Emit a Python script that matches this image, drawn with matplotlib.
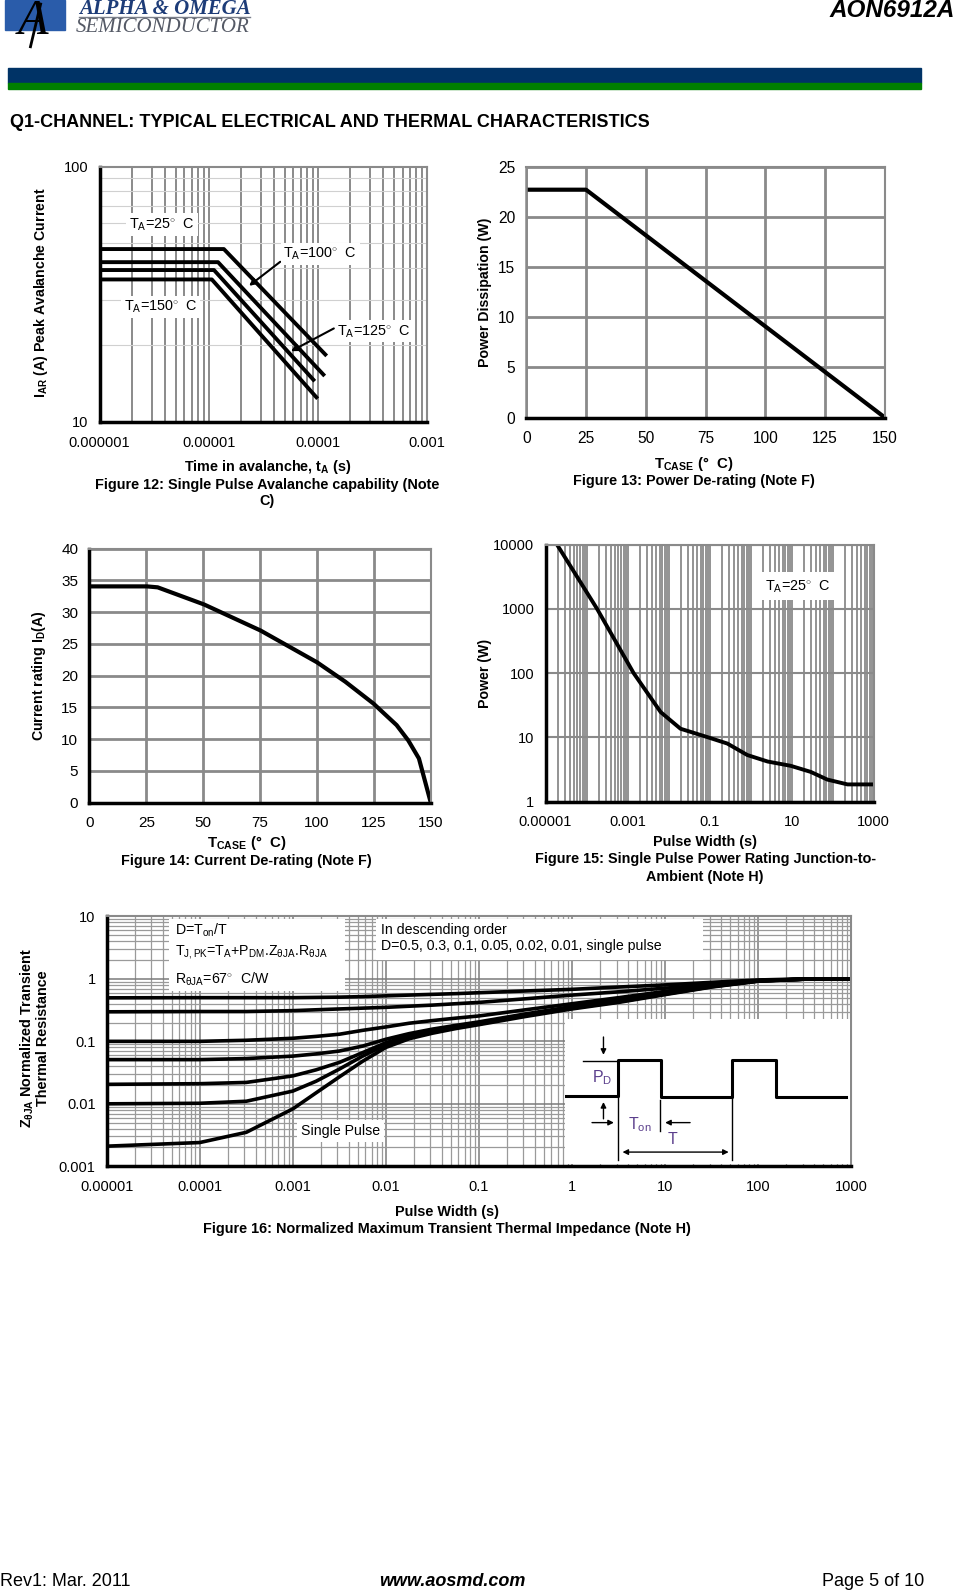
import numpy as np
import matplotlib.pyplot as plt
import matplotlib.ticker as mticker
from matplotlib.patches import Rectangle

plt.rcParams['font.family'] = ['Liberation Sans', 'DejaVu Sans']
plt.rcParams['mathtext.fontset'] = 'custom'
plt.rcParams['mathtext.rm'] = 'Liberation Sans'
plt.rcParams['mathtext.it'] = 'Liberation Sans:italic'
plt.rcParams['mathtext.bf'] = 'Liberation Sans:bold'

W, H = 956, 1593
# layout units used below (page measured at 941 x 1568)
PW, PH = 941.0, 1568.0

# ---- data ----
# Fig 12: avalanche current vs time
av_t25 = [1e-6, 1.38e-5, 1.21e-4]
av_i25 = [47.5, 47.5, 18.1]
av_t100 = [1e-6, 1.22e-5, 1.16e-4]
av_i100 = [42.2, 42.2, 15.1]
av_t125 = [1e-6, 1.12e-5, 9.4e-5]
av_i125 = [39.3, 39.3, 14.4]
av_t150 = [1e-6, 1.07e-5, 1.0e-4]
av_i150 = [36.1, 36.1, 12.3]

# Fig 13: power derating
pd_tc = [0, 25, 150]
pd_w = [22.7, 22.7, 0]

# Fig 14: current derating
id_tc = [0, 25.3, 30, 50.4, 75.2, 100, 112.4, 124.8, 135, 140.1, 144.8, 150]
id_a = [34.05, 34.05, 33.9, 31.2, 27.1, 22.1, 19.05, 15.6, 12.2, 9.8, 6.95, 0]

# Fig 15: single pulse power
sp_t = [1.9e-5, 1.8e-4, 1.4e-3, 6.4e-3, 0.0195, 0.087, 0.27, 0.83, 2.6, 9.5, 29, 74, 230, 1000]
sp_p = [10000, 1000, 100, 24.7, 13.6, 10.1, 8.0, 5.3, 4.2, 3.6, 2.9, 2.2, 1.85, 1.85]

# Fig 16: normalized transient thermal impedance (log10 of pulse width)
zt_logt = [-5, -4, -3.5, -3, -2.75, -2.5, -2.25, -2, -1.75, -1.5, -1.25, -1,
           -0.5, 0, 0.5, 1, 1.5, 2, 2.5, 3]
z_d05 = [0.497, 0.5, 0.5, 0.5, 0.505, 0.51, 0.52, 0.535, 0.55, 0.565, 0.58, 0.6,
         0.64, 0.68, 0.74, 0.8, 0.88, 0.96, 1.0, 1.0]
z_d03 = [0.297, 0.3, 0.3, 0.31, 0.32, 0.33, 0.34, 0.35, 0.365, 0.38, 0.4, 0.42,
         0.48, 0.55, 0.62, 0.71, 0.81, 0.93, 0.99, 1.0]
z_d01 = [0.1, 0.1, 0.104, 0.112, 0.12, 0.13, 0.15, 0.17, 0.195, 0.215, 0.235, 0.255,
         0.32, 0.4, 0.5, 0.63, 0.79, 0.94, 0.99, 1.0]
z_d005 = [0.051, 0.051, 0.053, 0.058, 0.063, 0.07, 0.084, 0.108, 0.133, 0.157, 0.18, 0.205,
          0.275, 0.36, 0.46, 0.6, 0.77, 0.93, 0.99, 1.0]
z_d002 = [0.0205, 0.021, 0.022, 0.028, 0.035, 0.046, 0.066, 0.095, 0.123, 0.148, 0.172, 0.196,
          0.265, 0.35, 0.44, 0.58, 0.76, 0.93, 0.99, 1.0]
z_d001 = [0.01, 0.0102, 0.011, 0.016, 0.023, 0.036, 0.058, 0.088, 0.117, 0.142, 0.167, 0.19,
          0.26, 0.34, 0.43, 0.57, 0.75, 0.92, 0.99, 1.0]
z_single = [0.0021, 0.0024, 0.0035, 0.0083, 0.015, 0.027, 0.048, 0.08, 0.11, 0.135, 0.16, 0.185,
            0.25, 0.33, 0.42, 0.56, 0.74, 0.92, 0.99, 1.0]

# pulse schematic (inset units)
pulse_x = [0, 52, 52, 95, 95, 165, 165, 208, 208, 277]
pulse_y = [76, 76, 40, 40, 77, 77, 40, 40, 77, 77]

fig = plt.figure(figsize=(W / 100, H / 100), dpi=100)


def add_ax(l, t, r, b):
    return fig.add_axes([l / PW, 1 - b / PH, (r - l) / PW, (b - t) / PH])


def ftext(x, y, s, **kw):
    return fig.text(x / PW, 1 - y / PH, s, **kw)


def fpt(x, y):
    return (x / PW, 1 - y / PH)


def style(ax, left='k', bottom='k', size=10.5):
    for s in ['top', 'right']:
        ax.spines[s].set_color('#8a8a8a')
        ax.spines[s].set_linewidth(1.5)
    ax.spines['left'].set_color(left)
    ax.spines['left'].set_linewidth(2.5 if left == 'k' else 1.8)
    ax.spines['bottom'].set_color(bottom)
    ax.spines['bottom'].set_linewidth(2.5)
    ax.tick_params(which='both', length=0, labelsize=size)
    ax.tick_params(axis='x', pad=10)
    ax.tick_params(axis='y', pad=8)
    ax.set_axisbelow(True)


LAB = 10.4

# ---- page header / footer ----
page = fig.add_axes([0, 0, 1, 1])
page.set_xlim(0, PW)
page.set_ylim(PH, 0)
page.axis('off')
page.add_patch(Rectangle((5, 0), 59, 30, color='#2a5caa'))
page.text(32, 21, 'A', fontsize=36, style='italic', family='Liberation Serif',
          ha='center', va='center', color='k')
page.plot([40, 30], [4, 46], color='k', lw=2)
page.text(78, 8.5, 'ALPHA & OMEGA', fontsize=15, weight='bold', style='italic',
          family='Liberation Serif', color='#1d3c78', va='center')
page.plot([78, 246], [17, 17], color='#7a7f8a', lw=1)
page.text(75, 27, 'SEMICONDUCTOR', fontsize=15, style='italic',
          family='Liberation Serif', color='#555a66', va='center')
page.text(940, 10, 'AON6912A', fontsize=17.5, weight='bold', style='italic',
          ha='right', va='center')
page.add_patch(Rectangle((8, 67), 899, 15, color='#003366'))
page.add_patch(Rectangle((8, 82), 899, 6, color='#008000'))
page.text(10, 121, 'Q1-CHANNEL: TYPICAL ELECTRICAL AND THERMAL CHARACTERISTICS',
          fontsize=13, weight='bold', va='center')
page.text(0, 1557, 'Rev1: Mar. 2011', fontsize=13, va='center')
page.text(445, 1557, 'www.aosmd.com', fontsize=13, weight='bold', style='italic',
          va='center', ha='center')
page.text(910, 1557, 'Page 5 of 10', fontsize=13, va='center', ha='right')

# ---- Figure 12 ----
ax = add_ax(98, 164, 420, 415)
ax.set_xscale('log')
ax.set_yscale('log')
ax.set_xlim(1e-6, 1e-3)
ax.set_ylim(10, 100)
ax.set_xticks([1e-6, 1e-5, 1e-4, 1e-3])
ax.set_xticklabels(['0.000001', '0.00001', '0.0001', '0.001'])
ax.set_yticks([10, 100])
ax.set_yticklabels(['10', '100'])
ax.xaxis.set_minor_locator(mticker.LogLocator(base=10, subs=np.arange(2, 10)))
ax.yaxis.set_minor_locator(mticker.LogLocator(base=10, subs=np.arange(2, 10)))
ax.xaxis.set_minor_formatter(mticker.NullFormatter())
ax.yaxis.set_minor_formatter(mticker.NullFormatter())
ax.grid(True, axis='x', which='both', color='#8a8a8a', lw=1.4)
ax.grid(True, axis='y', which='minor', color='#d0d0d0', lw=0.8)
style(ax)
for t, i in [(av_t25, av_i25), (av_t100, av_i100), (av_t125, av_i125), (av_t150, av_i150)]:
    ax.plot(t, i, color='k', lw=2.8, solid_capstyle='butt')
box = dict(facecolor='white', edgecolor='none', pad=2)
ftext(127, 221, 'T$_{\\mathrm{A}}$=25$^{\\circ}$  C', fontsize=LAB, va='center', bbox=box)
ftext(279, 250, 'T$_{\\mathrm{A}}$=100$^{\\circ}$  C', fontsize=LAB, va='center', bbox=box)
ftext(122, 302, 'T$_{\\mathrm{A}}$=150$^{\\circ}$  C', fontsize=LAB, va='center', bbox=box)
ftext(332, 326, 'T$_{\\mathrm{A}}$=125$^{\\circ}$  C', fontsize=LAB, va='center', bbox=box)
ax.annotate('', xy=fpt(243, 283), xytext=fpt(278, 256),
            xycoords='figure fraction', arrowprops=dict(arrowstyle='-|>', color='k', lw=1.5))
ax.annotate('', xy=fpt(284, 347), xytext=fpt(331, 322),
            xycoords='figure fraction', arrowprops=dict(arrowstyle='-|>', color='k', lw=1.5))
ftext(40, 288, r'$\mathbf{I_{AR}}$ (A) Peak Avalanche Current', fontsize=10.2, weight='bold',
      rotation=90, ha='center', va='center')
ftext(263, 460, r'Time in avalanche, $\mathbf{t_A}$ (s)', fontsize=LAB, weight='bold',
      ha='center', va='center')
ftext(263, 477, 'Figure 12: Single Pulse Avalanche capability (Note', fontsize=LAB,
      weight='bold', ha='center', va='center')
ftext(263, 493, 'C)', fontsize=LAB, weight='bold', ha='center', va='center')

# ---- Figure 13 ----
ax = add_ax(518, 164, 871, 411)
ax.set_xlim(0, 150)
ax.set_ylim(0, 25)
ax.set_xticks(np.arange(0, 151, 25))
ax.set_yticks(np.arange(0, 26, 5))
ax.grid(True, color='#8a8a8a', lw=2)
style(ax, left='#8a8a8a', size=11.2)
ax.plot(pd_tc, pd_w, color='k', lw=3)
ftext(477, 288, 'Power Dissipation (W)', fontsize=10.2, weight='bold', rotation=90,
      ha='center', va='center')
ftext(683, 457, r'$\mathbf{T_{CASE}}$ (°  C)', fontsize=10.8, weight='bold', ha='center', va='center')
ftext(683, 473, 'Figure 13: Power De-rating (Note F)', fontsize=LAB, weight='bold',
      ha='center', va='center')

# ---- Figure 14 ----
ax = add_ax(88, 540, 424, 790)
ax.set_xlim(0, 150)
ax.set_ylim(0, 40)
ax.set_xticks(np.arange(0, 151, 25))
ax.set_yticks(np.arange(0, 41, 5))
ax.grid(True, color='#8a8a8a', lw=2)
style(ax, size=11)
ax.plot(id_tc, id_a, color='k', lw=3)
ftext(38, 665, r'Current rating $\mathbf{I_D}$(A)', fontsize=10.2, weight='bold', rotation=90,
      ha='center', va='center')
ftext(243, 830, r'$\mathbf{T_{CASE}}$ (°  C)', fontsize=10.8, weight='bold', ha='center', va='center')
ftext(243, 847, 'Figure 14: Current De-rating (Note F)', fontsize=LAB, weight='bold',
      ha='center', va='center')

# ---- Figure 15 ----
ax = add_ax(537, 536, 860, 789)
ax.set_xscale('log')
ax.set_yscale('log')
ax.set_xlim(1e-5, 1e3)
ax.set_ylim(1, 1e4)
ax.set_xticks([10.0 ** k for k in range(-5, 4)])
ax.set_xticklabels(['0.00001', '', '0.001', '', '0.1', '', '10', '', '1000'])
ax.set_yticks([1, 10, 100, 1000, 10000])
ax.set_yticklabels(['1', '10', '100', '1000', '10000'])
ax.xaxis.set_minor_locator(mticker.LogLocator(base=10, subs=np.arange(2, 10), numticks=50))
ax.xaxis.set_minor_formatter(mticker.NullFormatter())
ax.yaxis.set_minor_locator(mticker.NullLocator())
ax.grid(True, axis='x', which='both', color='#8a8a8a', lw=1.3)
ax.grid(True, axis='y', which='major', color='#8a8a8a', lw=1.5)
style(ax)
ax.plot(sp_t, sp_p, color='k', lw=2.8)
ftext(753, 577, 'T$_{\\mathrm{A}}$=25$^{\\circ}$  C', fontsize=LAB, va='center',
      bbox=dict(facecolor='white', edgecolor='none', pad=4))
ftext(477, 663, 'Power (W)', fontsize=10.2, weight='bold', rotation=90, ha='center', va='center')
ftext(694, 829, 'Pulse Width (s)', fontsize=LAB, weight='bold', ha='center', va='center')
ftext(694, 846, 'Figure 15: Single Pulse Power Rating Junction-to-', fontsize=LAB,
      weight='bold', ha='center', va='center')
ftext(694, 863, 'Ambient (Note H)', fontsize=LAB, weight='bold', ha='center', va='center')

# ---- Figure 16 ----
ax = add_ax(105, 902, 838, 1148)
ax.set_xscale('log')
ax.set_yscale('log')
ax.set_xlim(1e-5, 1e3)
ax.set_ylim(1e-3, 10)
ax.set_xticks([10.0 ** k for k in range(-5, 4)])
ax.set_xticklabels(['0.00001', '0.0001', '0.001', '0.01', '0.1', '1', '10', '100', '1000'])
ax.set_yticks([1e-3, 1e-2, 0.1, 1, 10])
ax.set_yticklabels(['0.001', '0.01', '0.1', '1', '10'])
for a in (ax.xaxis, ax.yaxis):
    a.set_minor_locator(mticker.LogLocator(base=10, subs=np.arange(2, 10), numticks=50))
    a.set_minor_formatter(mticker.NullFormatter())
ax.grid(True, which='major', color='#7a7a7a', lw=1.1)
ax.grid(True, which='minor', color='#9a9a9a', lw=0.9)
style(ax)
zt = 10.0 ** np.array(zt_logt)
for z in [z_d05, z_d03, z_d01, z_d005, z_d002, z_d001, z_single]:
    ax.plot(zt, z, color='k', lw=2.6)

fig.patches.append(Rectangle(fpt(166, 975), 174 / PW, 70 / PH, transform=fig.transFigure,
                             facecolor='white', edgecolor='none', zorder=5))
fig.patches.append(Rectangle(fpt(370, 945), 322 / PW, 40 / PH, transform=fig.transFigure,
                             facecolor='white', edgecolor='none', zorder=5))
TB = 10.2
ftext(172, 916, r'D=T$_{\mathrm{on}}$/T', fontsize=TB, va='center', zorder=6)
ftext(172, 937, r'T$_{\mathrm{J,PK}}$=T$_{\mathrm{A}}$+P$_{\mathrm{DM}}$.Z$_{\mathrm{θJA}}$.R$_{\mathrm{θJA}}$',
      fontsize=TB, va='center', zorder=6)
ftext(172, 964, r'R$_{\mathrm{θJA}}$=67$^{\circ}$  C/W', fontsize=TB, va='center', zorder=6)
ftext(375, 915, 'In descending order', fontsize=TB, va='center', zorder=6)
ftext(375, 931, 'D=0.5, 0.3, 0.1, 0.05, 0.02, 0.01, single pulse', fontsize=TB,
      va='center', zorder=6)
ftext(296, 1113, 'Single Pulse', fontsize=TB, va='center',
      bbox=dict(facecolor='white', edgecolor='none', pad=3))
ftext(27, 1022, r'$\mathbf{Z_{θJA}}$ Normalized Transient', fontsize=LAB, weight='bold',
      rotation=90, ha='center', va='center')
ftext(42, 1022, 'Thermal Resistance', fontsize=LAB, weight='bold', rotation=90,
      ha='center', va='center')
ftext(440, 1193, 'Pulse Width (s)', fontsize=LAB, weight='bold', ha='center', va='center')
ftext(440, 1210, 'Figure 16: Normalized Maximum Transient Thermal Impedance (Note H)',
      fontsize=LAB, weight='bold', ha='center', va='center')

# inset pulse diagram
ins = add_ax(556, 1003, 837, 1146)
ins.set_xlim(0, 281)
ins.set_ylim(143, 0)
ins.set_facecolor('white')
ins.set_xticks([])
ins.set_yticks([])
for s in ins.spines.values():
    s.set_visible(False)
ins.plot(pulse_x, pulse_y, color='k', lw=2.2)
ins.plot([52, 52], [76, 139], color='k', lw=1)
ins.plot([94, 94], [80, 110], color='k', lw=1)
ins.plot([165, 165], [77, 139], color='k', lw=1)
ins.plot([18, 52], [41, 41], color='k', lw=1)
arw = dict(arrowstyle='-|>', color='k', lw=1, mutation_scale=8)
ins.annotate('', xy=(38, 38), xytext=(38, 15), arrowprops=arw)
ins.annotate('', xy=(38, 79), xytext=(38, 101), arrowprops=arw)
ins.annotate('', xy=(51, 102), xytext=(24, 102), arrowprops=arw)
ins.annotate('', xy=(96, 102), xytext=(126, 102), arrowprops=arw)
ins.annotate('', xy=(54, 131), xytext=(164, 131),
             arrowprops=dict(arrowstyle='<|-|>', color='k', lw=1, mutation_scale=8))
ins.text(27, 58, r'P$_{\mathrm{D}}$', fontsize=11.5, color='#5b3f8c', va='center')
ins.text(62, 104, r'T$_{\mathrm{on}}$', fontsize=11.5, color='#5b3f8c', va='center')
ins.text(101, 119, 'T', fontsize=11.5, color='#5b3f8c', va='center')

fig.savefig('out.png', dpi=100)
